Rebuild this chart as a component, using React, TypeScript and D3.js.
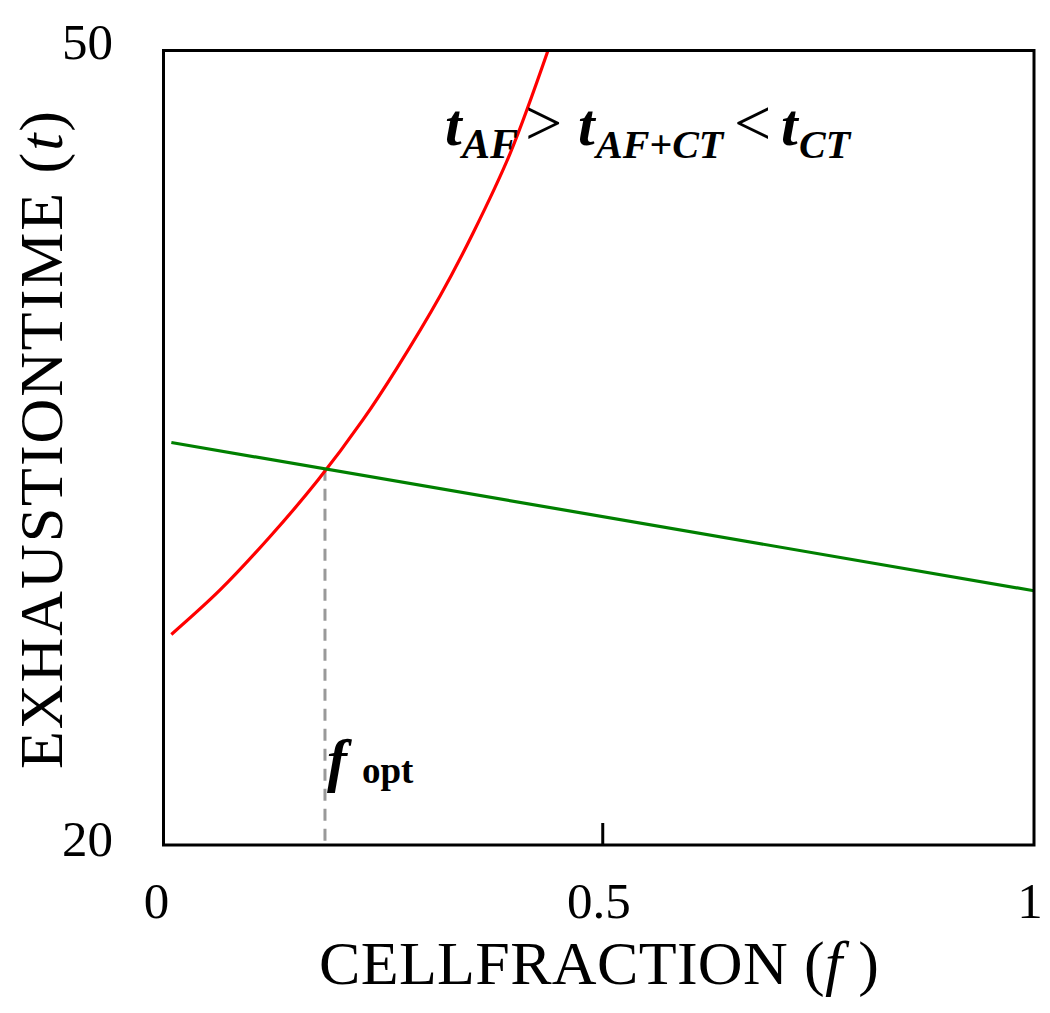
import React from "react";
import * as d3 from "d3";

const redF = [0.009, 0.065, 0.122, 0.1775, 0.229, 0.268, 0.318, 0.3555, 0.398, 0.4417];
const redT = [27.95, 29.63, 31.63, 33.78, 36.05, 38.0, 40.75, 43.1, 46.1, 50.0];
const greenF = [0.009, 1.0];
const greenT = [35.2, 29.6];
const fOpt = 0.1855;
const xTicks = [0, 0.5, 1];
const xTickLabels = ["0", "0.5", "1"];
const yTicks = [20, 50];

const W = 1050, H = 1013;
const L = 163.5, R = 1034, T = 50.5, B = 845;

export default function App() {
  const x = d3.scaleLinear().domain([0, 1]).range([L, R]);
  const y = d3.scaleLinear().domain([20, 50]).range([B, T]);
  const line = d3.line<[number, number]>().x(d => x(d[0])).y(d => y(d[1])).curve(d3.curveCatmullRom.alpha(0.5));
  const redPts: [number, number][] = redF.map((f, i) => [f, redT[i]]);
  const greenPts: [number, number][] = greenF.map((f, i) => [f, greenT[i]]);
  const greenAt = (f: number) => greenT[0] + (greenT[1] - greenT[0]) * (f - greenF[0]) / (greenF[1] - greenF[0]);
  const font = "'Liberation Serif', 'Times New Roman', serif";
  return (
    <svg width={W} height={H} style={{ position: "absolute", left: 0, top: 0 }} fontFamily={font}>
      <rect x={0} y={0} width={W} height={H} fill="#fff" />
      <defs>
        <clipPath id="plot"><rect x={L} y={T} width={R - L} height={B - T} /></clipPath>
      </defs>
      <line x1={x(fOpt)} x2={x(fOpt)} y1={y(greenAt(fOpt))} y2={B} stroke="#999" strokeWidth={3} strokeDasharray="12,8" />
      <g clipPath="url(#plot)">
        <path d={line(redPts) || ""} fill="none" stroke="#ff0000" strokeWidth={3.2} />
        <path d={line(greenPts) || ""} fill="none" stroke="#008000" strokeWidth={3.2} />
      </g>
      <rect x={L} y={T} width={R - L} height={B - T} fill="none" stroke="#000" strokeWidth={3} />
      {xTicks.filter(v => v > 0 && v < 1).map(v => (
        <line key={v} x1={x(v) + 4} x2={x(v) + 4} y1={B} y2={B - 22} stroke="#000" strokeWidth={3} />
      ))}
      {xTicks.map((v, i) => (
        <text key={v} x={x(v) + (v === 0 ? -7 : v === 1 ? -4 : 0)} y={918} fontSize={51} textAnchor="middle">{xTickLabels[i]}</text>
      ))}
      {yTicks.map(v => (
        <text key={v} x={113} y={y(v) + (v === 50 ? 8 : 11)} fontSize={51} textAnchor="end">{v}</text>
      ))}
      <text x={599} y={984} fontSize={62} textAnchor="middle" textLength={560} lengthAdjust="spacing">
        CELLFRACTION (<tspan fontStyle="italic">f</tspan> )
      </text>
      <text transform={`translate(62, 440) rotate(-90)`} fontSize={62} textAnchor="middle" textLength={658} lengthAdjust="spacing">
        EXHAUSTIONTIME (<tspan fontStyle="italic">t</tspan>)
      </text>
      <g fontWeight="bold" fontStyle="italic">
        <text x={445} y={145} fontSize={60}>t</text>
        <text x={462} y={158} fontSize={42}>AF</text>
        <text x={525} y={145} fontSize={66} fontWeight="normal" fontStyle="normal">&gt;</text>
        <text x={578} y={145} fontSize={60}>t</text>
        <text x={596} y={158} fontSize={40}>AF+CT</text>
        <text x={734} y={145} fontSize={66} fontWeight="normal" fontStyle="normal">&lt;</text>
        <text x={781} y={145} fontSize={60}>t</text>
        <text x={799} y={158} fontSize={40}>CT</text>
        <text x={327} y={780} fontSize={60}>f</text>
        <text x={362} y={783} fontSize={37} fontStyle="normal">opt</text>
      </g>
    </svg>
  );
}
